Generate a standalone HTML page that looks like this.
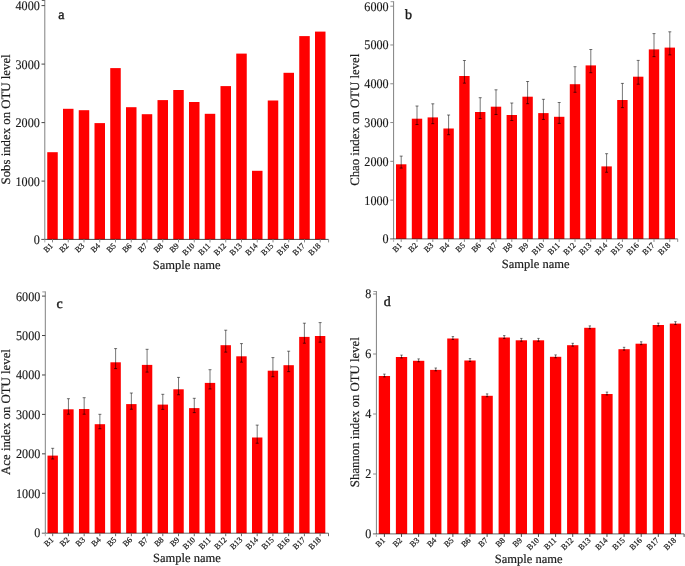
<!DOCTYPE html>
<html><head><meta charset="utf-8"><style>
html,body{margin:0;padding:0;background:#fff;}
svg{display:block;font-family:"Liberation Serif", serif;}
svg text{fill:#1a1a1a;text-rendering:geometricPrecision;}
.t{filter:grayscale(1);}
</style></head><body>
<svg width="685" height="566" viewBox="0 0 685 566">
<rect x="47.25" y="152.20" width="10.50" height="87.20" fill="#ff0000"/>
<rect x="63.00" y="108.80" width="10.50" height="130.60" fill="#ff0000"/>
<rect x="78.75" y="110.20" width="10.50" height="129.20" fill="#ff0000"/>
<rect x="94.50" y="123.10" width="10.50" height="116.30" fill="#ff0000"/>
<rect x="110.25" y="68.10" width="10.50" height="171.30" fill="#ff0000"/>
<rect x="126.00" y="107.20" width="10.50" height="132.20" fill="#ff0000"/>
<rect x="141.75" y="114.20" width="10.50" height="125.20" fill="#ff0000"/>
<rect x="157.50" y="100.10" width="10.50" height="139.30" fill="#ff0000"/>
<rect x="173.25" y="90.00" width="10.50" height="149.40" fill="#ff0000"/>
<rect x="189.00" y="102.00" width="10.50" height="137.40" fill="#ff0000"/>
<rect x="204.75" y="113.80" width="10.50" height="125.60" fill="#ff0000"/>
<rect x="220.50" y="86.10" width="10.50" height="153.30" fill="#ff0000"/>
<rect x="236.25" y="53.60" width="10.50" height="185.80" fill="#ff0000"/>
<rect x="252.00" y="170.80" width="10.50" height="68.60" fill="#ff0000"/>
<rect x="267.75" y="100.50" width="10.50" height="138.90" fill="#ff0000"/>
<rect x="283.50" y="72.80" width="10.50" height="166.60" fill="#ff0000"/>
<rect x="299.25" y="36.10" width="10.50" height="203.30" fill="#ff0000"/>
<rect x="315.00" y="31.60" width="10.50" height="207.80" fill="#ff0000"/>
<line x1="44.80" y1="0.00" x2="44.80" y2="239.40" stroke="#808080" stroke-width="1"/>
<line x1="41.80" y1="0.50" x2="44.80" y2="0.50" stroke="#666" stroke-width="1"/>
<line x1="41.50" y1="181.10" x2="44.80" y2="181.10" stroke="#454545" stroke-width="1"/>
<line x1="41.50" y1="122.60" x2="44.80" y2="122.60" stroke="#454545" stroke-width="1"/>
<line x1="41.50" y1="64.10" x2="44.80" y2="64.10" stroke="#454545" stroke-width="1"/>
<line x1="41.50" y1="5.60" x2="44.80" y2="5.60" stroke="#454545" stroke-width="1"/>
<line x1="41.30" y1="239.40" x2="328.60" y2="239.40" stroke="#000" stroke-width="1" stroke-opacity="0.7"/>
<line x1="52.50" y1="239.40" x2="52.50" y2="242.40" stroke="#8a8a8a" stroke-width="1"/>
<line x1="68.25" y1="239.40" x2="68.25" y2="242.40" stroke="#8a8a8a" stroke-width="1"/>
<line x1="84.00" y1="239.40" x2="84.00" y2="242.40" stroke="#8a8a8a" stroke-width="1"/>
<line x1="99.75" y1="239.40" x2="99.75" y2="242.40" stroke="#8a8a8a" stroke-width="1"/>
<line x1="115.50" y1="239.40" x2="115.50" y2="242.40" stroke="#8a8a8a" stroke-width="1"/>
<line x1="131.25" y1="239.40" x2="131.25" y2="242.40" stroke="#8a8a8a" stroke-width="1"/>
<line x1="147.00" y1="239.40" x2="147.00" y2="242.40" stroke="#8a8a8a" stroke-width="1"/>
<line x1="162.75" y1="239.40" x2="162.75" y2="242.40" stroke="#8a8a8a" stroke-width="1"/>
<line x1="178.50" y1="239.40" x2="178.50" y2="242.40" stroke="#8a8a8a" stroke-width="1"/>
<line x1="194.25" y1="239.40" x2="194.25" y2="242.40" stroke="#8a8a8a" stroke-width="1"/>
<line x1="210.00" y1="239.40" x2="210.00" y2="242.40" stroke="#8a8a8a" stroke-width="1"/>
<line x1="225.75" y1="239.40" x2="225.75" y2="242.40" stroke="#8a8a8a" stroke-width="1"/>
<line x1="241.50" y1="239.40" x2="241.50" y2="242.40" stroke="#8a8a8a" stroke-width="1"/>
<line x1="257.25" y1="239.40" x2="257.25" y2="242.40" stroke="#8a8a8a" stroke-width="1"/>
<line x1="273.00" y1="239.40" x2="273.00" y2="242.40" stroke="#8a8a8a" stroke-width="1"/>
<line x1="288.75" y1="239.40" x2="288.75" y2="242.40" stroke="#8a8a8a" stroke-width="1"/>
<line x1="304.50" y1="239.40" x2="304.50" y2="242.40" stroke="#8a8a8a" stroke-width="1"/>
<line x1="320.25" y1="239.40" x2="320.25" y2="242.40" stroke="#8a8a8a" stroke-width="1"/>
<line x1="328.60" y1="239.40" x2="328.60" y2="242.40" stroke="#8a8a8a" stroke-width="1"/>
<line x1="44.80" y1="239.40" x2="44.80" y2="242.40" stroke="#aaa" stroke-width="1"/>
<rect x="396.00" y="164.30" width="10.40" height="74.60" fill="#ff0000"/>
<rect x="411.80" y="118.70" width="10.40" height="120.20" fill="#ff0000"/>
<rect x="427.60" y="117.40" width="10.40" height="121.50" fill="#ff0000"/>
<rect x="443.40" y="128.50" width="10.40" height="110.40" fill="#ff0000"/>
<rect x="459.20" y="76.00" width="10.40" height="162.90" fill="#ff0000"/>
<rect x="475.00" y="112.00" width="10.40" height="126.90" fill="#ff0000"/>
<rect x="490.80" y="106.70" width="10.40" height="132.20" fill="#ff0000"/>
<rect x="506.60" y="115.00" width="10.40" height="123.90" fill="#ff0000"/>
<rect x="522.40" y="96.70" width="10.40" height="142.20" fill="#ff0000"/>
<rect x="538.20" y="113.10" width="10.40" height="125.80" fill="#ff0000"/>
<rect x="554.00" y="116.80" width="10.40" height="122.10" fill="#ff0000"/>
<rect x="569.80" y="84.20" width="10.40" height="154.70" fill="#ff0000"/>
<rect x="585.60" y="65.40" width="10.40" height="173.50" fill="#ff0000"/>
<rect x="601.40" y="166.40" width="10.40" height="72.50" fill="#ff0000"/>
<rect x="617.20" y="100.00" width="10.40" height="138.90" fill="#ff0000"/>
<rect x="633.00" y="76.70" width="10.40" height="162.20" fill="#ff0000"/>
<rect x="648.80" y="49.40" width="10.40" height="189.50" fill="#ff0000"/>
<rect x="664.60" y="47.60" width="10.40" height="191.30" fill="#ff0000"/>
<line x1="401.20" y1="156.10" x2="401.20" y2="168.07" stroke="#000" stroke-width="0.9" stroke-opacity="0.6"/>
<line x1="399.70" y1="156.10" x2="402.70" y2="156.10" stroke="#000" stroke-width="0.9" stroke-opacity="0.6"/>
<line x1="399.70" y1="168.07" x2="402.70" y2="168.07" stroke="#000" stroke-width="0.9" stroke-opacity="0.7"/>
<line x1="417.00" y1="106.00" x2="417.00" y2="124.54" stroke="#000" stroke-width="0.9" stroke-opacity="0.6"/>
<line x1="415.50" y1="106.00" x2="418.50" y2="106.00" stroke="#000" stroke-width="0.9" stroke-opacity="0.6"/>
<line x1="415.50" y1="124.54" x2="418.50" y2="124.54" stroke="#000" stroke-width="0.9" stroke-opacity="0.7"/>
<line x1="432.80" y1="103.80" x2="432.80" y2="123.66" stroke="#000" stroke-width="0.9" stroke-opacity="0.6"/>
<line x1="431.30" y1="103.80" x2="434.30" y2="103.80" stroke="#000" stroke-width="0.9" stroke-opacity="0.6"/>
<line x1="431.30" y1="123.66" x2="434.30" y2="123.66" stroke="#000" stroke-width="0.9" stroke-opacity="0.7"/>
<line x1="448.60" y1="115.00" x2="448.60" y2="134.71" stroke="#000" stroke-width="0.9" stroke-opacity="0.6"/>
<line x1="447.10" y1="115.00" x2="450.10" y2="115.00" stroke="#000" stroke-width="0.9" stroke-opacity="0.6"/>
<line x1="447.10" y1="134.71" x2="450.10" y2="134.71" stroke="#000" stroke-width="0.9" stroke-opacity="0.7"/>
<line x1="464.40" y1="60.50" x2="464.40" y2="83.13" stroke="#000" stroke-width="0.9" stroke-opacity="0.6"/>
<line x1="462.90" y1="60.50" x2="465.90" y2="60.50" stroke="#000" stroke-width="0.9" stroke-opacity="0.6"/>
<line x1="462.90" y1="83.13" x2="465.90" y2="83.13" stroke="#000" stroke-width="0.9" stroke-opacity="0.7"/>
<line x1="480.20" y1="97.70" x2="480.20" y2="118.58" stroke="#000" stroke-width="0.9" stroke-opacity="0.6"/>
<line x1="478.70" y1="97.70" x2="481.70" y2="97.70" stroke="#000" stroke-width="0.9" stroke-opacity="0.6"/>
<line x1="478.70" y1="118.58" x2="481.70" y2="118.58" stroke="#000" stroke-width="0.9" stroke-opacity="0.7"/>
<line x1="496.00" y1="89.80" x2="496.00" y2="114.47" stroke="#000" stroke-width="0.9" stroke-opacity="0.6"/>
<line x1="494.50" y1="89.80" x2="497.50" y2="89.80" stroke="#000" stroke-width="0.9" stroke-opacity="0.6"/>
<line x1="494.50" y1="114.47" x2="497.50" y2="114.47" stroke="#000" stroke-width="0.9" stroke-opacity="0.7"/>
<line x1="511.80" y1="103.00" x2="511.80" y2="120.52" stroke="#000" stroke-width="0.9" stroke-opacity="0.6"/>
<line x1="510.30" y1="103.00" x2="513.30" y2="103.00" stroke="#000" stroke-width="0.9" stroke-opacity="0.6"/>
<line x1="510.30" y1="120.52" x2="513.30" y2="120.52" stroke="#000" stroke-width="0.9" stroke-opacity="0.7"/>
<line x1="527.60" y1="81.50" x2="527.60" y2="103.69" stroke="#000" stroke-width="0.9" stroke-opacity="0.6"/>
<line x1="526.10" y1="81.50" x2="529.10" y2="81.50" stroke="#000" stroke-width="0.9" stroke-opacity="0.6"/>
<line x1="526.10" y1="103.69" x2="529.10" y2="103.69" stroke="#000" stroke-width="0.9" stroke-opacity="0.7"/>
<line x1="543.40" y1="99.30" x2="543.40" y2="119.45" stroke="#000" stroke-width="0.9" stroke-opacity="0.6"/>
<line x1="541.90" y1="99.30" x2="544.90" y2="99.30" stroke="#000" stroke-width="0.9" stroke-opacity="0.6"/>
<line x1="541.90" y1="119.45" x2="544.90" y2="119.45" stroke="#000" stroke-width="0.9" stroke-opacity="0.7"/>
<line x1="559.20" y1="102.50" x2="559.20" y2="123.38" stroke="#000" stroke-width="0.9" stroke-opacity="0.6"/>
<line x1="557.70" y1="102.50" x2="560.70" y2="102.50" stroke="#000" stroke-width="0.9" stroke-opacity="0.6"/>
<line x1="557.70" y1="123.38" x2="560.70" y2="123.38" stroke="#000" stroke-width="0.9" stroke-opacity="0.7"/>
<line x1="575.00" y1="66.70" x2="575.00" y2="92.25" stroke="#000" stroke-width="0.9" stroke-opacity="0.6"/>
<line x1="573.50" y1="66.70" x2="576.50" y2="66.70" stroke="#000" stroke-width="0.9" stroke-opacity="0.6"/>
<line x1="573.50" y1="92.25" x2="576.50" y2="92.25" stroke="#000" stroke-width="0.9" stroke-opacity="0.7"/>
<line x1="590.80" y1="49.50" x2="590.80" y2="72.71" stroke="#000" stroke-width="0.9" stroke-opacity="0.6"/>
<line x1="589.30" y1="49.50" x2="592.30" y2="49.50" stroke="#000" stroke-width="0.9" stroke-opacity="0.6"/>
<line x1="589.30" y1="72.71" x2="592.30" y2="72.71" stroke="#000" stroke-width="0.9" stroke-opacity="0.7"/>
<line x1="606.60" y1="153.70" x2="606.60" y2="172.24" stroke="#000" stroke-width="0.9" stroke-opacity="0.6"/>
<line x1="605.10" y1="153.70" x2="608.10" y2="153.70" stroke="#000" stroke-width="0.9" stroke-opacity="0.6"/>
<line x1="605.10" y1="172.24" x2="608.10" y2="172.24" stroke="#000" stroke-width="0.9" stroke-opacity="0.7"/>
<line x1="622.40" y1="83.40" x2="622.40" y2="107.64" stroke="#000" stroke-width="0.9" stroke-opacity="0.6"/>
<line x1="620.90" y1="83.40" x2="623.90" y2="83.40" stroke="#000" stroke-width="0.9" stroke-opacity="0.6"/>
<line x1="620.90" y1="107.64" x2="623.90" y2="107.64" stroke="#000" stroke-width="0.9" stroke-opacity="0.7"/>
<line x1="638.20" y1="60.40" x2="638.20" y2="84.20" stroke="#000" stroke-width="0.9" stroke-opacity="0.6"/>
<line x1="636.70" y1="60.40" x2="639.70" y2="60.40" stroke="#000" stroke-width="0.9" stroke-opacity="0.6"/>
<line x1="636.70" y1="84.20" x2="639.70" y2="84.20" stroke="#000" stroke-width="0.9" stroke-opacity="0.7"/>
<line x1="654.00" y1="33.60" x2="654.00" y2="56.67" stroke="#000" stroke-width="0.9" stroke-opacity="0.6"/>
<line x1="652.50" y1="33.60" x2="655.50" y2="33.60" stroke="#000" stroke-width="0.9" stroke-opacity="0.6"/>
<line x1="652.50" y1="56.67" x2="655.50" y2="56.67" stroke="#000" stroke-width="0.9" stroke-opacity="0.7"/>
<line x1="669.80" y1="31.80" x2="669.80" y2="54.87" stroke="#000" stroke-width="0.9" stroke-opacity="0.6"/>
<line x1="668.30" y1="31.80" x2="671.30" y2="31.80" stroke="#000" stroke-width="0.9" stroke-opacity="0.6"/>
<line x1="668.30" y1="54.87" x2="671.30" y2="54.87" stroke="#000" stroke-width="0.9" stroke-opacity="0.7"/>
<line x1="393.60" y1="1.20" x2="393.60" y2="238.90" stroke="#808080" stroke-width="1"/>
<line x1="390.60" y1="1.70" x2="393.60" y2="1.70" stroke="#999" stroke-width="1"/>
<line x1="390.30" y1="200.12" x2="393.60" y2="200.12" stroke="#8a8a8a" stroke-width="1"/>
<line x1="390.30" y1="161.33" x2="393.60" y2="161.33" stroke="#8a8a8a" stroke-width="1"/>
<line x1="390.30" y1="122.55" x2="393.60" y2="122.55" stroke="#8a8a8a" stroke-width="1"/>
<line x1="390.30" y1="83.77" x2="393.60" y2="83.77" stroke="#8a8a8a" stroke-width="1"/>
<line x1="390.30" y1="44.98" x2="393.60" y2="44.98" stroke="#8a8a8a" stroke-width="1"/>
<line x1="390.30" y1="6.20" x2="393.60" y2="6.20" stroke="#8a8a8a" stroke-width="1"/>
<line x1="390.10" y1="238.90" x2="677.70" y2="238.90" stroke="#000" stroke-width="1" stroke-opacity="0.6"/>
<line x1="401.20" y1="238.90" x2="401.20" y2="241.90" stroke="#8a8a8a" stroke-width="1"/>
<line x1="417.00" y1="238.90" x2="417.00" y2="241.90" stroke="#8a8a8a" stroke-width="1"/>
<line x1="432.80" y1="238.90" x2="432.80" y2="241.90" stroke="#8a8a8a" stroke-width="1"/>
<line x1="448.60" y1="238.90" x2="448.60" y2="241.90" stroke="#8a8a8a" stroke-width="1"/>
<line x1="464.40" y1="238.90" x2="464.40" y2="241.90" stroke="#8a8a8a" stroke-width="1"/>
<line x1="480.20" y1="238.90" x2="480.20" y2="241.90" stroke="#8a8a8a" stroke-width="1"/>
<line x1="496.00" y1="238.90" x2="496.00" y2="241.90" stroke="#8a8a8a" stroke-width="1"/>
<line x1="511.80" y1="238.90" x2="511.80" y2="241.90" stroke="#8a8a8a" stroke-width="1"/>
<line x1="527.60" y1="238.90" x2="527.60" y2="241.90" stroke="#8a8a8a" stroke-width="1"/>
<line x1="543.40" y1="238.90" x2="543.40" y2="241.90" stroke="#8a8a8a" stroke-width="1"/>
<line x1="559.20" y1="238.90" x2="559.20" y2="241.90" stroke="#8a8a8a" stroke-width="1"/>
<line x1="575.00" y1="238.90" x2="575.00" y2="241.90" stroke="#8a8a8a" stroke-width="1"/>
<line x1="590.80" y1="238.90" x2="590.80" y2="241.90" stroke="#8a8a8a" stroke-width="1"/>
<line x1="606.60" y1="238.90" x2="606.60" y2="241.90" stroke="#8a8a8a" stroke-width="1"/>
<line x1="622.40" y1="238.90" x2="622.40" y2="241.90" stroke="#8a8a8a" stroke-width="1"/>
<line x1="638.20" y1="238.90" x2="638.20" y2="241.90" stroke="#8a8a8a" stroke-width="1"/>
<line x1="654.00" y1="238.90" x2="654.00" y2="241.90" stroke="#8a8a8a" stroke-width="1"/>
<line x1="669.80" y1="238.90" x2="669.80" y2="241.90" stroke="#8a8a8a" stroke-width="1"/>
<line x1="677.70" y1="238.90" x2="677.70" y2="241.90" stroke="#8a8a8a" stroke-width="1"/>
<line x1="393.60" y1="238.90" x2="393.60" y2="241.90" stroke="#aaa" stroke-width="1"/>
<rect x="47.50" y="455.60" width="10.40" height="77.60" fill="#ff0000"/>
<rect x="63.23" y="409.30" width="10.40" height="123.90" fill="#ff0000"/>
<rect x="78.96" y="409.00" width="10.40" height="124.20" fill="#ff0000"/>
<rect x="94.69" y="424.20" width="10.40" height="109.00" fill="#ff0000"/>
<rect x="110.42" y="362.30" width="10.40" height="170.90" fill="#ff0000"/>
<rect x="126.15" y="404.10" width="10.40" height="129.10" fill="#ff0000"/>
<rect x="141.88" y="364.90" width="10.40" height="168.30" fill="#ff0000"/>
<rect x="157.61" y="404.60" width="10.40" height="128.60" fill="#ff0000"/>
<rect x="173.34" y="389.30" width="10.40" height="143.90" fill="#ff0000"/>
<rect x="189.07" y="408.10" width="10.40" height="125.10" fill="#ff0000"/>
<rect x="204.80" y="382.90" width="10.40" height="150.30" fill="#ff0000"/>
<rect x="220.53" y="345.20" width="10.40" height="188.00" fill="#ff0000"/>
<rect x="236.26" y="356.30" width="10.40" height="176.90" fill="#ff0000"/>
<rect x="251.99" y="437.50" width="10.40" height="95.70" fill="#ff0000"/>
<rect x="267.72" y="370.70" width="10.40" height="162.50" fill="#ff0000"/>
<rect x="283.45" y="365.20" width="10.40" height="168.00" fill="#ff0000"/>
<rect x="299.18" y="336.90" width="10.40" height="196.30" fill="#ff0000"/>
<rect x="314.91" y="336.00" width="10.40" height="197.20" fill="#ff0000"/>
<line x1="52.70" y1="448.30" x2="52.70" y2="458.96" stroke="#000" stroke-width="0.9" stroke-opacity="0.6"/>
<line x1="51.20" y1="448.30" x2="54.20" y2="448.30" stroke="#000" stroke-width="0.9" stroke-opacity="0.6"/>
<line x1="51.20" y1="458.96" x2="54.20" y2="458.96" stroke="#000" stroke-width="0.9" stroke-opacity="0.7"/>
<line x1="68.43" y1="398.70" x2="68.43" y2="414.18" stroke="#000" stroke-width="0.9" stroke-opacity="0.6"/>
<line x1="66.93" y1="398.70" x2="69.93" y2="398.70" stroke="#000" stroke-width="0.9" stroke-opacity="0.6"/>
<line x1="66.93" y1="414.18" x2="69.93" y2="414.18" stroke="#000" stroke-width="0.9" stroke-opacity="0.7"/>
<line x1="84.16" y1="397.70" x2="84.16" y2="414.20" stroke="#000" stroke-width="0.9" stroke-opacity="0.6"/>
<line x1="82.66" y1="397.70" x2="85.66" y2="397.70" stroke="#000" stroke-width="0.9" stroke-opacity="0.6"/>
<line x1="82.66" y1="414.20" x2="85.66" y2="414.20" stroke="#000" stroke-width="0.9" stroke-opacity="0.7"/>
<line x1="99.89" y1="414.30" x2="99.89" y2="428.75" stroke="#000" stroke-width="0.9" stroke-opacity="0.6"/>
<line x1="98.39" y1="414.30" x2="101.39" y2="414.30" stroke="#000" stroke-width="0.9" stroke-opacity="0.6"/>
<line x1="98.39" y1="428.75" x2="101.39" y2="428.75" stroke="#000" stroke-width="0.9" stroke-opacity="0.7"/>
<line x1="115.62" y1="348.60" x2="115.62" y2="368.60" stroke="#000" stroke-width="0.9" stroke-opacity="0.6"/>
<line x1="114.12" y1="348.60" x2="117.12" y2="348.60" stroke="#000" stroke-width="0.9" stroke-opacity="0.6"/>
<line x1="114.12" y1="368.60" x2="117.12" y2="368.60" stroke="#000" stroke-width="0.9" stroke-opacity="0.7"/>
<line x1="131.35" y1="393.00" x2="131.35" y2="409.21" stroke="#000" stroke-width="0.9" stroke-opacity="0.6"/>
<line x1="129.85" y1="393.00" x2="132.85" y2="393.00" stroke="#000" stroke-width="0.9" stroke-opacity="0.6"/>
<line x1="129.85" y1="409.21" x2="132.85" y2="409.21" stroke="#000" stroke-width="0.9" stroke-opacity="0.7"/>
<line x1="147.08" y1="349.30" x2="147.08" y2="372.08" stroke="#000" stroke-width="0.9" stroke-opacity="0.6"/>
<line x1="145.58" y1="349.30" x2="148.58" y2="349.30" stroke="#000" stroke-width="0.9" stroke-opacity="0.6"/>
<line x1="145.58" y1="372.08" x2="148.58" y2="372.08" stroke="#000" stroke-width="0.9" stroke-opacity="0.7"/>
<line x1="162.81" y1="394.30" x2="162.81" y2="409.34" stroke="#000" stroke-width="0.9" stroke-opacity="0.6"/>
<line x1="161.31" y1="394.30" x2="164.31" y2="394.30" stroke="#000" stroke-width="0.9" stroke-opacity="0.6"/>
<line x1="161.31" y1="409.34" x2="164.31" y2="409.34" stroke="#000" stroke-width="0.9" stroke-opacity="0.7"/>
<line x1="178.54" y1="377.40" x2="178.54" y2="394.77" stroke="#000" stroke-width="0.9" stroke-opacity="0.6"/>
<line x1="177.04" y1="377.40" x2="180.04" y2="377.40" stroke="#000" stroke-width="0.9" stroke-opacity="0.6"/>
<line x1="177.04" y1="394.77" x2="180.04" y2="394.77" stroke="#000" stroke-width="0.9" stroke-opacity="0.7"/>
<line x1="194.27" y1="398.30" x2="194.27" y2="412.61" stroke="#000" stroke-width="0.9" stroke-opacity="0.6"/>
<line x1="192.77" y1="398.30" x2="195.77" y2="398.30" stroke="#000" stroke-width="0.9" stroke-opacity="0.6"/>
<line x1="192.77" y1="412.61" x2="195.77" y2="412.61" stroke="#000" stroke-width="0.9" stroke-opacity="0.7"/>
<line x1="210.00" y1="369.70" x2="210.00" y2="388.97" stroke="#000" stroke-width="0.9" stroke-opacity="0.6"/>
<line x1="208.50" y1="369.70" x2="211.50" y2="369.70" stroke="#000" stroke-width="0.9" stroke-opacity="0.6"/>
<line x1="208.50" y1="388.97" x2="211.50" y2="388.97" stroke="#000" stroke-width="0.9" stroke-opacity="0.7"/>
<line x1="225.73" y1="330.20" x2="225.73" y2="352.10" stroke="#000" stroke-width="0.9" stroke-opacity="0.6"/>
<line x1="224.23" y1="330.20" x2="227.23" y2="330.20" stroke="#000" stroke-width="0.9" stroke-opacity="0.6"/>
<line x1="224.23" y1="352.10" x2="227.23" y2="352.10" stroke="#000" stroke-width="0.9" stroke-opacity="0.7"/>
<line x1="241.46" y1="343.60" x2="241.46" y2="362.14" stroke="#000" stroke-width="0.9" stroke-opacity="0.6"/>
<line x1="239.96" y1="343.60" x2="242.96" y2="343.60" stroke="#000" stroke-width="0.9" stroke-opacity="0.6"/>
<line x1="239.96" y1="362.14" x2="242.96" y2="362.14" stroke="#000" stroke-width="0.9" stroke-opacity="0.7"/>
<line x1="257.19" y1="425.10" x2="257.19" y2="443.20" stroke="#000" stroke-width="0.9" stroke-opacity="0.6"/>
<line x1="255.69" y1="425.10" x2="258.69" y2="425.10" stroke="#000" stroke-width="0.9" stroke-opacity="0.6"/>
<line x1="255.69" y1="443.20" x2="258.69" y2="443.20" stroke="#000" stroke-width="0.9" stroke-opacity="0.7"/>
<line x1="272.92" y1="357.60" x2="272.92" y2="376.73" stroke="#000" stroke-width="0.9" stroke-opacity="0.6"/>
<line x1="271.42" y1="357.60" x2="274.42" y2="357.60" stroke="#000" stroke-width="0.9" stroke-opacity="0.6"/>
<line x1="271.42" y1="376.73" x2="274.42" y2="376.73" stroke="#000" stroke-width="0.9" stroke-opacity="0.7"/>
<line x1="288.65" y1="351.20" x2="288.65" y2="371.64" stroke="#000" stroke-width="0.9" stroke-opacity="0.6"/>
<line x1="287.15" y1="351.20" x2="290.15" y2="351.20" stroke="#000" stroke-width="0.9" stroke-opacity="0.6"/>
<line x1="287.15" y1="371.64" x2="290.15" y2="371.64" stroke="#000" stroke-width="0.9" stroke-opacity="0.7"/>
<line x1="304.38" y1="323.20" x2="304.38" y2="343.20" stroke="#000" stroke-width="0.9" stroke-opacity="0.6"/>
<line x1="302.88" y1="323.20" x2="305.88" y2="323.20" stroke="#000" stroke-width="0.9" stroke-opacity="0.6"/>
<line x1="302.88" y1="343.20" x2="305.88" y2="343.20" stroke="#000" stroke-width="0.9" stroke-opacity="0.7"/>
<line x1="320.11" y1="322.60" x2="320.11" y2="342.16" stroke="#000" stroke-width="0.9" stroke-opacity="0.6"/>
<line x1="318.61" y1="322.60" x2="321.61" y2="322.60" stroke="#000" stroke-width="0.9" stroke-opacity="0.6"/>
<line x1="318.61" y1="342.16" x2="321.61" y2="342.16" stroke="#000" stroke-width="0.9" stroke-opacity="0.7"/>
<line x1="45.30" y1="291.40" x2="45.30" y2="533.20" stroke="#808080" stroke-width="1"/>
<line x1="42.30" y1="291.90" x2="45.30" y2="291.90" stroke="#999" stroke-width="1"/>
<line x1="42.00" y1="493.27" x2="45.30" y2="493.27" stroke="#454545" stroke-width="1"/>
<line x1="42.00" y1="453.83" x2="45.30" y2="453.83" stroke="#454545" stroke-width="1"/>
<line x1="42.00" y1="414.40" x2="45.30" y2="414.40" stroke="#454545" stroke-width="1"/>
<line x1="42.00" y1="374.97" x2="45.30" y2="374.97" stroke="#454545" stroke-width="1"/>
<line x1="42.00" y1="335.53" x2="45.30" y2="335.53" stroke="#454545" stroke-width="1"/>
<line x1="42.00" y1="296.10" x2="45.30" y2="296.10" stroke="#454545" stroke-width="1"/>
<line x1="41.80" y1="533.20" x2="328.50" y2="533.20" stroke="#000" stroke-width="1" stroke-opacity="0.6"/>
<line x1="52.70" y1="533.20" x2="52.70" y2="536.20" stroke="#666" stroke-width="1"/>
<line x1="68.43" y1="533.20" x2="68.43" y2="536.20" stroke="#666" stroke-width="1"/>
<line x1="84.16" y1="533.20" x2="84.16" y2="536.20" stroke="#666" stroke-width="1"/>
<line x1="99.89" y1="533.20" x2="99.89" y2="536.20" stroke="#666" stroke-width="1"/>
<line x1="115.62" y1="533.20" x2="115.62" y2="536.20" stroke="#666" stroke-width="1"/>
<line x1="131.35" y1="533.20" x2="131.35" y2="536.20" stroke="#666" stroke-width="1"/>
<line x1="147.08" y1="533.20" x2="147.08" y2="536.20" stroke="#666" stroke-width="1"/>
<line x1="162.81" y1="533.20" x2="162.81" y2="536.20" stroke="#666" stroke-width="1"/>
<line x1="178.54" y1="533.20" x2="178.54" y2="536.20" stroke="#666" stroke-width="1"/>
<line x1="194.27" y1="533.20" x2="194.27" y2="536.20" stroke="#666" stroke-width="1"/>
<line x1="210.00" y1="533.20" x2="210.00" y2="536.20" stroke="#666" stroke-width="1"/>
<line x1="225.73" y1="533.20" x2="225.73" y2="536.20" stroke="#666" stroke-width="1"/>
<line x1="241.46" y1="533.20" x2="241.46" y2="536.20" stroke="#666" stroke-width="1"/>
<line x1="257.19" y1="533.20" x2="257.19" y2="536.20" stroke="#666" stroke-width="1"/>
<line x1="272.92" y1="533.20" x2="272.92" y2="536.20" stroke="#666" stroke-width="1"/>
<line x1="288.65" y1="533.20" x2="288.65" y2="536.20" stroke="#666" stroke-width="1"/>
<line x1="304.38" y1="533.20" x2="304.38" y2="536.20" stroke="#666" stroke-width="1"/>
<line x1="320.11" y1="533.20" x2="320.11" y2="536.20" stroke="#666" stroke-width="1"/>
<line x1="328.50" y1="533.20" x2="328.50" y2="536.20" stroke="#666" stroke-width="1"/>
<line x1="45.30" y1="533.20" x2="45.30" y2="536.20" stroke="#aaa" stroke-width="1"/>
<rect x="378.75" y="376.00" width="11.30" height="157.90" fill="#ff0000"/>
<rect x="395.87" y="357.00" width="11.30" height="176.90" fill="#ff0000"/>
<rect x="412.99" y="360.80" width="11.30" height="173.10" fill="#ff0000"/>
<rect x="430.11" y="369.90" width="11.30" height="164.00" fill="#ff0000"/>
<rect x="447.23" y="338.50" width="11.30" height="195.40" fill="#ff0000"/>
<rect x="464.35" y="360.50" width="11.30" height="173.40" fill="#ff0000"/>
<rect x="481.47" y="395.80" width="11.30" height="138.10" fill="#ff0000"/>
<rect x="498.59" y="337.50" width="11.30" height="196.40" fill="#ff0000"/>
<rect x="515.71" y="340.30" width="11.30" height="193.60" fill="#ff0000"/>
<rect x="532.83" y="340.30" width="11.30" height="193.60" fill="#ff0000"/>
<rect x="549.95" y="356.80" width="11.30" height="177.10" fill="#ff0000"/>
<rect x="567.07" y="345.20" width="11.30" height="188.70" fill="#ff0000"/>
<rect x="584.19" y="327.80" width="11.30" height="206.10" fill="#ff0000"/>
<rect x="601.31" y="394.00" width="11.30" height="139.90" fill="#ff0000"/>
<rect x="618.43" y="349.20" width="11.30" height="184.70" fill="#ff0000"/>
<rect x="635.55" y="343.70" width="11.30" height="190.20" fill="#ff0000"/>
<rect x="652.67" y="325.00" width="11.30" height="208.90" fill="#ff0000"/>
<rect x="669.79" y="323.60" width="11.30" height="210.30" fill="#ff0000"/>
<line x1="384.40" y1="374.10" x2="384.40" y2="376.95" stroke="#000" stroke-width="0.9" stroke-opacity="0.6"/>
<line x1="383.20" y1="374.10" x2="385.60" y2="374.10" stroke="#000" stroke-width="0.9" stroke-opacity="0.6"/>
<line x1="383.20" y1="376.95" x2="385.60" y2="376.95" stroke="#000" stroke-width="0.9" stroke-opacity="0.7"/>
<line x1="401.52" y1="355.10" x2="401.52" y2="357.95" stroke="#000" stroke-width="0.9" stroke-opacity="0.6"/>
<line x1="400.32" y1="355.10" x2="402.72" y2="355.10" stroke="#000" stroke-width="0.9" stroke-opacity="0.6"/>
<line x1="400.32" y1="357.95" x2="402.72" y2="357.95" stroke="#000" stroke-width="0.9" stroke-opacity="0.7"/>
<line x1="418.64" y1="358.90" x2="418.64" y2="361.75" stroke="#000" stroke-width="0.9" stroke-opacity="0.6"/>
<line x1="417.44" y1="358.90" x2="419.84" y2="358.90" stroke="#000" stroke-width="0.9" stroke-opacity="0.6"/>
<line x1="417.44" y1="361.75" x2="419.84" y2="361.75" stroke="#000" stroke-width="0.9" stroke-opacity="0.7"/>
<line x1="435.76" y1="368.00" x2="435.76" y2="370.85" stroke="#000" stroke-width="0.9" stroke-opacity="0.6"/>
<line x1="434.56" y1="368.00" x2="436.96" y2="368.00" stroke="#000" stroke-width="0.9" stroke-opacity="0.6"/>
<line x1="434.56" y1="370.85" x2="436.96" y2="370.85" stroke="#000" stroke-width="0.9" stroke-opacity="0.7"/>
<line x1="452.88" y1="336.60" x2="452.88" y2="339.45" stroke="#000" stroke-width="0.9" stroke-opacity="0.6"/>
<line x1="451.68" y1="336.60" x2="454.08" y2="336.60" stroke="#000" stroke-width="0.9" stroke-opacity="0.6"/>
<line x1="451.68" y1="339.45" x2="454.08" y2="339.45" stroke="#000" stroke-width="0.9" stroke-opacity="0.7"/>
<line x1="470.00" y1="358.60" x2="470.00" y2="361.45" stroke="#000" stroke-width="0.9" stroke-opacity="0.6"/>
<line x1="468.80" y1="358.60" x2="471.20" y2="358.60" stroke="#000" stroke-width="0.9" stroke-opacity="0.6"/>
<line x1="468.80" y1="361.45" x2="471.20" y2="361.45" stroke="#000" stroke-width="0.9" stroke-opacity="0.7"/>
<line x1="487.12" y1="393.90" x2="487.12" y2="396.75" stroke="#000" stroke-width="0.9" stroke-opacity="0.6"/>
<line x1="485.92" y1="393.90" x2="488.32" y2="393.90" stroke="#000" stroke-width="0.9" stroke-opacity="0.6"/>
<line x1="485.92" y1="396.75" x2="488.32" y2="396.75" stroke="#000" stroke-width="0.9" stroke-opacity="0.7"/>
<line x1="504.24" y1="335.60" x2="504.24" y2="338.45" stroke="#000" stroke-width="0.9" stroke-opacity="0.6"/>
<line x1="503.04" y1="335.60" x2="505.44" y2="335.60" stroke="#000" stroke-width="0.9" stroke-opacity="0.6"/>
<line x1="503.04" y1="338.45" x2="505.44" y2="338.45" stroke="#000" stroke-width="0.9" stroke-opacity="0.7"/>
<line x1="521.36" y1="338.40" x2="521.36" y2="341.25" stroke="#000" stroke-width="0.9" stroke-opacity="0.6"/>
<line x1="520.16" y1="338.40" x2="522.56" y2="338.40" stroke="#000" stroke-width="0.9" stroke-opacity="0.6"/>
<line x1="520.16" y1="341.25" x2="522.56" y2="341.25" stroke="#000" stroke-width="0.9" stroke-opacity="0.7"/>
<line x1="538.48" y1="338.40" x2="538.48" y2="341.25" stroke="#000" stroke-width="0.9" stroke-opacity="0.6"/>
<line x1="537.28" y1="338.40" x2="539.68" y2="338.40" stroke="#000" stroke-width="0.9" stroke-opacity="0.6"/>
<line x1="537.28" y1="341.25" x2="539.68" y2="341.25" stroke="#000" stroke-width="0.9" stroke-opacity="0.7"/>
<line x1="555.60" y1="354.90" x2="555.60" y2="357.75" stroke="#000" stroke-width="0.9" stroke-opacity="0.6"/>
<line x1="554.40" y1="354.90" x2="556.80" y2="354.90" stroke="#000" stroke-width="0.9" stroke-opacity="0.6"/>
<line x1="554.40" y1="357.75" x2="556.80" y2="357.75" stroke="#000" stroke-width="0.9" stroke-opacity="0.7"/>
<line x1="572.72" y1="343.30" x2="572.72" y2="346.15" stroke="#000" stroke-width="0.9" stroke-opacity="0.6"/>
<line x1="571.52" y1="343.30" x2="573.92" y2="343.30" stroke="#000" stroke-width="0.9" stroke-opacity="0.6"/>
<line x1="571.52" y1="346.15" x2="573.92" y2="346.15" stroke="#000" stroke-width="0.9" stroke-opacity="0.7"/>
<line x1="589.84" y1="325.90" x2="589.84" y2="328.75" stroke="#000" stroke-width="0.9" stroke-opacity="0.6"/>
<line x1="588.64" y1="325.90" x2="591.04" y2="325.90" stroke="#000" stroke-width="0.9" stroke-opacity="0.6"/>
<line x1="588.64" y1="328.75" x2="591.04" y2="328.75" stroke="#000" stroke-width="0.9" stroke-opacity="0.7"/>
<line x1="606.96" y1="392.10" x2="606.96" y2="394.95" stroke="#000" stroke-width="0.9" stroke-opacity="0.6"/>
<line x1="605.76" y1="392.10" x2="608.16" y2="392.10" stroke="#000" stroke-width="0.9" stroke-opacity="0.6"/>
<line x1="605.76" y1="394.95" x2="608.16" y2="394.95" stroke="#000" stroke-width="0.9" stroke-opacity="0.7"/>
<line x1="624.08" y1="347.30" x2="624.08" y2="350.15" stroke="#000" stroke-width="0.9" stroke-opacity="0.6"/>
<line x1="622.88" y1="347.30" x2="625.28" y2="347.30" stroke="#000" stroke-width="0.9" stroke-opacity="0.6"/>
<line x1="622.88" y1="350.15" x2="625.28" y2="350.15" stroke="#000" stroke-width="0.9" stroke-opacity="0.7"/>
<line x1="641.20" y1="341.80" x2="641.20" y2="344.65" stroke="#000" stroke-width="0.9" stroke-opacity="0.6"/>
<line x1="640.00" y1="341.80" x2="642.40" y2="341.80" stroke="#000" stroke-width="0.9" stroke-opacity="0.6"/>
<line x1="640.00" y1="344.65" x2="642.40" y2="344.65" stroke="#000" stroke-width="0.9" stroke-opacity="0.7"/>
<line x1="658.32" y1="323.10" x2="658.32" y2="325.95" stroke="#000" stroke-width="0.9" stroke-opacity="0.6"/>
<line x1="657.12" y1="323.10" x2="659.52" y2="323.10" stroke="#000" stroke-width="0.9" stroke-opacity="0.6"/>
<line x1="657.12" y1="325.95" x2="659.52" y2="325.95" stroke="#000" stroke-width="0.9" stroke-opacity="0.7"/>
<line x1="675.44" y1="321.70" x2="675.44" y2="324.55" stroke="#000" stroke-width="0.9" stroke-opacity="0.6"/>
<line x1="674.24" y1="321.70" x2="676.64" y2="321.70" stroke="#000" stroke-width="0.9" stroke-opacity="0.6"/>
<line x1="674.24" y1="324.55" x2="676.64" y2="324.55" stroke="#000" stroke-width="0.9" stroke-opacity="0.7"/>
<line x1="376.40" y1="291.00" x2="376.40" y2="533.90" stroke="#808080" stroke-width="1"/>
<line x1="373.40" y1="291.50" x2="376.40" y2="291.50" stroke="#999" stroke-width="1"/>
<line x1="373.10" y1="474.00" x2="376.40" y2="474.00" stroke="#8a8a8a" stroke-width="1"/>
<line x1="373.10" y1="414.00" x2="376.40" y2="414.00" stroke="#8a8a8a" stroke-width="1"/>
<line x1="373.10" y1="354.00" x2="376.40" y2="354.00" stroke="#8a8a8a" stroke-width="1"/>
<line x1="373.10" y1="294.00" x2="376.40" y2="294.00" stroke="#8a8a8a" stroke-width="1"/>
<line x1="372.90" y1="533.90" x2="684.10" y2="533.90" stroke="#000" stroke-width="1" stroke-opacity="0.6"/>
<line x1="384.40" y1="533.90" x2="384.40" y2="536.90" stroke="#454545" stroke-width="1"/>
<line x1="401.52" y1="533.90" x2="401.52" y2="536.90" stroke="#454545" stroke-width="1"/>
<line x1="418.64" y1="533.90" x2="418.64" y2="536.90" stroke="#454545" stroke-width="1"/>
<line x1="435.76" y1="533.90" x2="435.76" y2="536.90" stroke="#454545" stroke-width="1"/>
<line x1="452.88" y1="533.90" x2="452.88" y2="536.90" stroke="#454545" stroke-width="1"/>
<line x1="470.00" y1="533.90" x2="470.00" y2="536.90" stroke="#454545" stroke-width="1"/>
<line x1="487.12" y1="533.90" x2="487.12" y2="536.90" stroke="#454545" stroke-width="1"/>
<line x1="504.24" y1="533.90" x2="504.24" y2="536.90" stroke="#454545" stroke-width="1"/>
<line x1="521.36" y1="533.90" x2="521.36" y2="536.90" stroke="#454545" stroke-width="1"/>
<line x1="538.48" y1="533.90" x2="538.48" y2="536.90" stroke="#454545" stroke-width="1"/>
<line x1="555.60" y1="533.90" x2="555.60" y2="536.90" stroke="#454545" stroke-width="1"/>
<line x1="572.72" y1="533.90" x2="572.72" y2="536.90" stroke="#454545" stroke-width="1"/>
<line x1="589.84" y1="533.90" x2="589.84" y2="536.90" stroke="#454545" stroke-width="1"/>
<line x1="606.96" y1="533.90" x2="606.96" y2="536.90" stroke="#454545" stroke-width="1"/>
<line x1="624.08" y1="533.90" x2="624.08" y2="536.90" stroke="#454545" stroke-width="1"/>
<line x1="641.20" y1="533.90" x2="641.20" y2="536.90" stroke="#454545" stroke-width="1"/>
<line x1="658.32" y1="533.90" x2="658.32" y2="536.90" stroke="#454545" stroke-width="1"/>
<line x1="675.44" y1="533.90" x2="675.44" y2="536.90" stroke="#454545" stroke-width="1"/>
<line x1="684.10" y1="533.90" x2="684.10" y2="536.90" stroke="#454545" stroke-width="1"/>
<line x1="376.40" y1="533.90" x2="376.40" y2="536.90" stroke="#aaa" stroke-width="1"/>
<g class="t">
<text transform="translate(39.80 244.00) scale(0.92 1)" font-size="13.2" text-anchor="end" stroke="#1a1a1a" stroke-width="0.15">0</text>
<text transform="translate(39.80 185.50) scale(0.92 1)" font-size="13.2" text-anchor="end" stroke="#1a1a1a" stroke-width="0.15">1000</text>
<text transform="translate(39.80 127.00) scale(0.92 1)" font-size="13.2" text-anchor="end" stroke="#1a1a1a" stroke-width="0.15">2000</text>
<text transform="translate(39.80 68.50) scale(0.92 1)" font-size="13.2" text-anchor="end" stroke="#1a1a1a" stroke-width="0.15">3000</text>
<text transform="translate(39.80 10.00) scale(0.92 1)" font-size="13.2" text-anchor="end" stroke="#1a1a1a" stroke-width="0.15">4000</text>
<text transform="translate(53.50 246.30) rotate(-45)" font-size="8.2" text-anchor="end" stroke="#1a1a1a" stroke-width="0.2">B1</text>
<text transform="translate(69.25 246.30) rotate(-45)" font-size="8.2" text-anchor="end" stroke="#1a1a1a" stroke-width="0.2">B2</text>
<text transform="translate(85.00 246.30) rotate(-45)" font-size="8.2" text-anchor="end" stroke="#1a1a1a" stroke-width="0.2">B3</text>
<text transform="translate(100.75 246.30) rotate(-45)" font-size="8.2" text-anchor="end" stroke="#1a1a1a" stroke-width="0.2">B4</text>
<text transform="translate(116.50 246.30) rotate(-45)" font-size="8.2" text-anchor="end" stroke="#1a1a1a" stroke-width="0.2">B5</text>
<text transform="translate(132.25 246.30) rotate(-45)" font-size="8.2" text-anchor="end" stroke="#1a1a1a" stroke-width="0.2">B6</text>
<text transform="translate(148.00 246.30) rotate(-45)" font-size="8.2" text-anchor="end" stroke="#1a1a1a" stroke-width="0.2">B7</text>
<text transform="translate(163.75 246.30) rotate(-45)" font-size="8.2" text-anchor="end" stroke="#1a1a1a" stroke-width="0.2">B8</text>
<text transform="translate(179.50 246.30) rotate(-45)" font-size="8.2" text-anchor="end" stroke="#1a1a1a" stroke-width="0.2">B9</text>
<text transform="translate(195.25 246.30) rotate(-45)" font-size="8.2" text-anchor="end" stroke="#1a1a1a" stroke-width="0.2">B10</text>
<text transform="translate(211.00 246.30) rotate(-45)" font-size="8.2" text-anchor="end" stroke="#1a1a1a" stroke-width="0.2">B11</text>
<text transform="translate(226.75 246.30) rotate(-45)" font-size="8.2" text-anchor="end" stroke="#1a1a1a" stroke-width="0.2">B12</text>
<text transform="translate(242.50 246.30) rotate(-45)" font-size="8.2" text-anchor="end" stroke="#1a1a1a" stroke-width="0.2">B13</text>
<text transform="translate(258.25 246.30) rotate(-45)" font-size="8.2" text-anchor="end" stroke="#1a1a1a" stroke-width="0.2">B14</text>
<text transform="translate(274.00 246.30) rotate(-45)" font-size="8.2" text-anchor="end" stroke="#1a1a1a" stroke-width="0.2">B15</text>
<text transform="translate(289.75 246.30) rotate(-45)" font-size="8.2" text-anchor="end" stroke="#1a1a1a" stroke-width="0.2">B16</text>
<text transform="translate(305.50 246.30) rotate(-45)" font-size="8.2" text-anchor="end" stroke="#1a1a1a" stroke-width="0.2">B17</text>
<text transform="translate(321.25 246.30) rotate(-45)" font-size="8.2" text-anchor="end" stroke="#1a1a1a" stroke-width="0.2">B18</text>
<text transform="translate(186.70 268.75)" font-size="12.5" text-anchor="middle" stroke="#1a1a1a" stroke-width="0.2">Sample name</text>
<text transform="translate(9.50 119.40) rotate(-90)" font-size="12.8" text-anchor="middle" stroke="#1a1a1a" stroke-width="0.2">Sobs index on OTU level</text>
<text transform="translate(58.30 19.00)" font-size="14" stroke="#1a1a1a" stroke-width="0.4">a</text>
<text transform="translate(388.60 243.30) scale(0.92 1)" font-size="13.2" text-anchor="end" stroke="#1a1a1a" stroke-width="0.15">0</text>
<text transform="translate(388.60 204.52) scale(0.92 1)" font-size="13.2" text-anchor="end" stroke="#1a1a1a" stroke-width="0.15">1000</text>
<text transform="translate(388.60 165.73) scale(0.92 1)" font-size="13.2" text-anchor="end" stroke="#1a1a1a" stroke-width="0.15">2000</text>
<text transform="translate(388.60 126.95) scale(0.92 1)" font-size="13.2" text-anchor="end" stroke="#1a1a1a" stroke-width="0.15">3000</text>
<text transform="translate(388.60 88.17) scale(0.92 1)" font-size="13.2" text-anchor="end" stroke="#1a1a1a" stroke-width="0.15">4000</text>
<text transform="translate(388.60 49.38) scale(0.92 1)" font-size="13.2" text-anchor="end" stroke="#1a1a1a" stroke-width="0.15">5000</text>
<text transform="translate(388.60 10.60) scale(0.92 1)" font-size="13.2" text-anchor="end" stroke="#1a1a1a" stroke-width="0.15">6000</text>
<text transform="translate(402.40 245.90) rotate(-45)" font-size="8.2" text-anchor="end" stroke="#1a1a1a" stroke-width="0.2">B1</text>
<text transform="translate(418.20 245.90) rotate(-45)" font-size="8.2" text-anchor="end" stroke="#1a1a1a" stroke-width="0.2">B2</text>
<text transform="translate(434.00 245.90) rotate(-45)" font-size="8.2" text-anchor="end" stroke="#1a1a1a" stroke-width="0.2">B3</text>
<text transform="translate(449.80 245.90) rotate(-45)" font-size="8.2" text-anchor="end" stroke="#1a1a1a" stroke-width="0.2">B4</text>
<text transform="translate(465.60 245.90) rotate(-45)" font-size="8.2" text-anchor="end" stroke="#1a1a1a" stroke-width="0.2">B5</text>
<text transform="translate(481.40 245.90) rotate(-45)" font-size="8.2" text-anchor="end" stroke="#1a1a1a" stroke-width="0.2">B6</text>
<text transform="translate(497.20 245.90) rotate(-45)" font-size="8.2" text-anchor="end" stroke="#1a1a1a" stroke-width="0.2">B7</text>
<text transform="translate(513.00 245.90) rotate(-45)" font-size="8.2" text-anchor="end" stroke="#1a1a1a" stroke-width="0.2">B8</text>
<text transform="translate(528.80 245.90) rotate(-45)" font-size="8.2" text-anchor="end" stroke="#1a1a1a" stroke-width="0.2">B9</text>
<text transform="translate(544.60 245.90) rotate(-45)" font-size="8.2" text-anchor="end" stroke="#1a1a1a" stroke-width="0.2">B10</text>
<text transform="translate(560.40 245.90) rotate(-45)" font-size="8.2" text-anchor="end" stroke="#1a1a1a" stroke-width="0.2">B11</text>
<text transform="translate(576.20 245.90) rotate(-45)" font-size="8.2" text-anchor="end" stroke="#1a1a1a" stroke-width="0.2">B12</text>
<text transform="translate(592.00 245.90) rotate(-45)" font-size="8.2" text-anchor="end" stroke="#1a1a1a" stroke-width="0.2">B13</text>
<text transform="translate(607.80 245.90) rotate(-45)" font-size="8.2" text-anchor="end" stroke="#1a1a1a" stroke-width="0.2">B14</text>
<text transform="translate(623.60 245.90) rotate(-45)" font-size="8.2" text-anchor="end" stroke="#1a1a1a" stroke-width="0.2">B15</text>
<text transform="translate(639.40 245.90) rotate(-45)" font-size="8.2" text-anchor="end" stroke="#1a1a1a" stroke-width="0.2">B16</text>
<text transform="translate(655.20 245.90) rotate(-45)" font-size="8.2" text-anchor="end" stroke="#1a1a1a" stroke-width="0.2">B17</text>
<text transform="translate(671.00 245.90) rotate(-45)" font-size="8.2" text-anchor="end" stroke="#1a1a1a" stroke-width="0.2">B18</text>
<text transform="translate(535.65 268.35)" font-size="12.5" text-anchor="middle" stroke="#1a1a1a" stroke-width="0.2">Sample name</text>
<text transform="translate(358.50 119.75) rotate(-90)" font-size="12.8" text-anchor="middle" stroke="#1a1a1a" stroke-width="0.2">Chao index on OTU level</text>
<text transform="translate(405.00 19.00)" font-size="14" stroke="#1a1a1a" stroke-width="0.4">b</text>
<text transform="translate(40.30 537.10) scale(0.92 1)" font-size="13.2" text-anchor="end" stroke="#1a1a1a" stroke-width="0.15">0</text>
<text transform="translate(40.30 497.67) scale(0.92 1)" font-size="13.2" text-anchor="end" stroke="#1a1a1a" stroke-width="0.15">1000</text>
<text transform="translate(40.30 458.23) scale(0.92 1)" font-size="13.2" text-anchor="end" stroke="#1a1a1a" stroke-width="0.15">2000</text>
<text transform="translate(40.30 418.80) scale(0.92 1)" font-size="13.2" text-anchor="end" stroke="#1a1a1a" stroke-width="0.15">3000</text>
<text transform="translate(40.30 379.37) scale(0.92 1)" font-size="13.2" text-anchor="end" stroke="#1a1a1a" stroke-width="0.15">4000</text>
<text transform="translate(40.30 339.93) scale(0.92 1)" font-size="13.2" text-anchor="end" stroke="#1a1a1a" stroke-width="0.15">5000</text>
<text transform="translate(40.30 300.50) scale(0.92 1)" font-size="13.2" text-anchor="end" stroke="#1a1a1a" stroke-width="0.15">6000</text>
<text transform="translate(54.10 540.30) rotate(-45)" font-size="8.2" text-anchor="end" stroke="#1a1a1a" stroke-width="0.2">B1</text>
<text transform="translate(69.83 540.30) rotate(-45)" font-size="8.2" text-anchor="end" stroke="#1a1a1a" stroke-width="0.2">B2</text>
<text transform="translate(85.56 540.30) rotate(-45)" font-size="8.2" text-anchor="end" stroke="#1a1a1a" stroke-width="0.2">B3</text>
<text transform="translate(101.29 540.30) rotate(-45)" font-size="8.2" text-anchor="end" stroke="#1a1a1a" stroke-width="0.2">B4</text>
<text transform="translate(117.02 540.30) rotate(-45)" font-size="8.2" text-anchor="end" stroke="#1a1a1a" stroke-width="0.2">B5</text>
<text transform="translate(132.75 540.30) rotate(-45)" font-size="8.2" text-anchor="end" stroke="#1a1a1a" stroke-width="0.2">B6</text>
<text transform="translate(148.48 540.30) rotate(-45)" font-size="8.2" text-anchor="end" stroke="#1a1a1a" stroke-width="0.2">B7</text>
<text transform="translate(164.21 540.30) rotate(-45)" font-size="8.2" text-anchor="end" stroke="#1a1a1a" stroke-width="0.2">B8</text>
<text transform="translate(179.94 540.30) rotate(-45)" font-size="8.2" text-anchor="end" stroke="#1a1a1a" stroke-width="0.2">B9</text>
<text transform="translate(195.67 540.30) rotate(-45)" font-size="8.2" text-anchor="end" stroke="#1a1a1a" stroke-width="0.2">B10</text>
<text transform="translate(211.40 540.30) rotate(-45)" font-size="8.2" text-anchor="end" stroke="#1a1a1a" stroke-width="0.2">B11</text>
<text transform="translate(227.13 540.30) rotate(-45)" font-size="8.2" text-anchor="end" stroke="#1a1a1a" stroke-width="0.2">B12</text>
<text transform="translate(242.86 540.30) rotate(-45)" font-size="8.2" text-anchor="end" stroke="#1a1a1a" stroke-width="0.2">B13</text>
<text transform="translate(258.59 540.30) rotate(-45)" font-size="8.2" text-anchor="end" stroke="#1a1a1a" stroke-width="0.2">B14</text>
<text transform="translate(274.32 540.30) rotate(-45)" font-size="8.2" text-anchor="end" stroke="#1a1a1a" stroke-width="0.2">B15</text>
<text transform="translate(290.05 540.30) rotate(-45)" font-size="8.2" text-anchor="end" stroke="#1a1a1a" stroke-width="0.2">B16</text>
<text transform="translate(305.78 540.30) rotate(-45)" font-size="8.2" text-anchor="end" stroke="#1a1a1a" stroke-width="0.2">B17</text>
<text transform="translate(321.51 540.30) rotate(-45)" font-size="8.2" text-anchor="end" stroke="#1a1a1a" stroke-width="0.2">B18</text>
<text transform="translate(186.90 562.45)" font-size="12.5" text-anchor="middle" stroke="#1a1a1a" stroke-width="0.2">Sample name</text>
<text transform="translate(9.50 412.00) rotate(-90)" font-size="12.8" text-anchor="middle" stroke="#1a1a1a" stroke-width="0.2">Ace index on OTU level</text>
<text transform="translate(56.60 307.70)" font-size="14" stroke="#1a1a1a" stroke-width="0.4">c</text>
<text transform="translate(371.40 538.40) scale(0.92 1)" font-size="13.2" text-anchor="end" stroke="#1a1a1a" stroke-width="0.15">0</text>
<text transform="translate(371.40 478.40) scale(0.92 1)" font-size="13.2" text-anchor="end" stroke="#1a1a1a" stroke-width="0.15">2</text>
<text transform="translate(371.40 418.40) scale(0.92 1)" font-size="13.2" text-anchor="end" stroke="#1a1a1a" stroke-width="0.15">4</text>
<text transform="translate(371.40 358.40) scale(0.92 1)" font-size="13.2" text-anchor="end" stroke="#1a1a1a" stroke-width="0.15">6</text>
<text transform="translate(371.40 298.40) scale(0.92 1)" font-size="13.2" text-anchor="end" stroke="#1a1a1a" stroke-width="0.15">8</text>
<text transform="translate(385.60 540.80) rotate(-45)" font-size="8.2" text-anchor="end" stroke="#1a1a1a" stroke-width="0.2">B1</text>
<text transform="translate(402.72 540.80) rotate(-45)" font-size="8.2" text-anchor="end" stroke="#1a1a1a" stroke-width="0.2">B2</text>
<text transform="translate(419.84 540.80) rotate(-45)" font-size="8.2" text-anchor="end" stroke="#1a1a1a" stroke-width="0.2">B3</text>
<text transform="translate(436.96 540.80) rotate(-45)" font-size="8.2" text-anchor="end" stroke="#1a1a1a" stroke-width="0.2">B4</text>
<text transform="translate(454.08 540.80) rotate(-45)" font-size="8.2" text-anchor="end" stroke="#1a1a1a" stroke-width="0.2">B5</text>
<text transform="translate(471.20 540.80) rotate(-45)" font-size="8.2" text-anchor="end" stroke="#1a1a1a" stroke-width="0.2">B6</text>
<text transform="translate(488.32 540.80) rotate(-45)" font-size="8.2" text-anchor="end" stroke="#1a1a1a" stroke-width="0.2">B7</text>
<text transform="translate(505.44 540.80) rotate(-45)" font-size="8.2" text-anchor="end" stroke="#1a1a1a" stroke-width="0.2">B8</text>
<text transform="translate(522.56 540.80) rotate(-45)" font-size="8.2" text-anchor="end" stroke="#1a1a1a" stroke-width="0.2">B9</text>
<text transform="translate(539.68 540.80) rotate(-45)" font-size="8.2" text-anchor="end" stroke="#1a1a1a" stroke-width="0.2">B10</text>
<text transform="translate(556.80 540.80) rotate(-45)" font-size="8.2" text-anchor="end" stroke="#1a1a1a" stroke-width="0.2">B11</text>
<text transform="translate(573.92 540.80) rotate(-45)" font-size="8.2" text-anchor="end" stroke="#1a1a1a" stroke-width="0.2">B12</text>
<text transform="translate(591.04 540.80) rotate(-45)" font-size="8.2" text-anchor="end" stroke="#1a1a1a" stroke-width="0.2">B13</text>
<text transform="translate(608.16 540.80) rotate(-45)" font-size="8.2" text-anchor="end" stroke="#1a1a1a" stroke-width="0.2">B14</text>
<text transform="translate(625.28 540.80) rotate(-45)" font-size="8.2" text-anchor="end" stroke="#1a1a1a" stroke-width="0.2">B15</text>
<text transform="translate(642.40 540.80) rotate(-45)" font-size="8.2" text-anchor="end" stroke="#1a1a1a" stroke-width="0.2">B16</text>
<text transform="translate(659.52 540.80) rotate(-45)" font-size="8.2" text-anchor="end" stroke="#1a1a1a" stroke-width="0.2">B17</text>
<text transform="translate(676.64 540.80) rotate(-45)" font-size="8.2" text-anchor="end" stroke="#1a1a1a" stroke-width="0.2">B18</text>
<text transform="translate(528.70 562.55)" font-size="12.5" text-anchor="middle" stroke="#1a1a1a" stroke-width="0.2">Sample name</text>
<text transform="translate(358.90 412.15) rotate(-90)" font-size="12.8" text-anchor="middle" stroke="#1a1a1a" stroke-width="0.2">Shannon index on OTU level</text>
<text transform="translate(383.80 305.50)" font-size="14" stroke="#1a1a1a" stroke-width="0.4">d</text>
</g>
</svg>
</body></html>
